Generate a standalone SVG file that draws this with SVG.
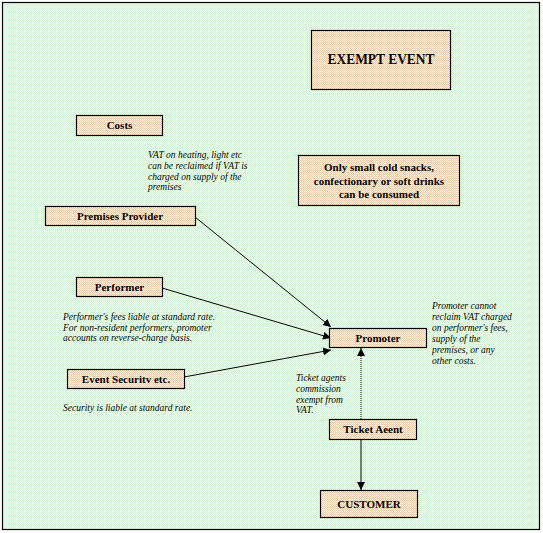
<svg xmlns="http://www.w3.org/2000/svg" width="543" height="533" viewBox="0 0 543 533">
<defs>
<pattern id="bg" width="2" height="2" patternUnits="userSpaceOnUse">
<rect width="2" height="2" fill="#ffffff"/>
<rect width="1" height="1" fill="#c6f7c6"/>
<rect x="1" y="1" width="1" height="1" fill="#c6f7c6"/>
</pattern>
<pattern id="pk" width="2" height="2" patternUnits="userSpaceOnUse">
<rect width="2" height="2" fill="#ffffff"/>
<rect width="1" height="1" fill="#ffc38c"/>
<rect x="1" y="1" width="1" height="1" fill="#ffc38c"/>
</pattern>
<marker id="ah" markerWidth="9" markerHeight="9" refX="8" refY="4" orient="auto" markerUnits="userSpaceOnUse">
<path d="M0,0 L8,4 L0,8 z" fill="#000"/>
</marker>
<style>
.box{fill:url(#pk);stroke:#000;stroke-width:1.2}
.lbl{font-family:"Liberation Serif","Times New Roman",serif;font-weight:bold;font-size:11px;text-anchor:middle;fill:#000}
.note{font-family:"Liberation Serif","Times New Roman",serif;font-style:italic;font-size:9.5px;fill:#000}
.ln{stroke:#000;stroke-width:1;fill:none}
</style>
</defs>
<rect x="2.5" y="2.5" width="537" height="527" fill="url(#bg)" stroke="#000" stroke-width="1.2"/>

<g id="connectors">
<line class="ln" x1="195" y1="217" x2="331" y2="327" marker-end="url(#ah)"/>
<line class="ln" x1="162" y1="288" x2="331" y2="338" marker-end="url(#ah)"/>
<line class="ln" x1="184" y1="377" x2="331" y2="350" marker-end="url(#ah)"/>
<line class="ln" x1="361" y1="419" x2="361" y2="348" stroke-dasharray="1,1" marker-end="url(#ah)"/>
<line class="ln" x1="361" y1="439" x2="361" y2="490" marker-end="url(#ah)"/>
</g>

<g id="exempt-event">
<rect class="box" x="311.5" y="30.5" width="139" height="59"/>
<text class="lbl" x="381" y="64" style="font-size:14px" textLength="107" lengthAdjust="spacingAndGlyphs">EXEMPT EVENT</text>
</g>

<g id="costs">
<rect class="box" x="76.5" y="115.5" width="86" height="20"/>
<text class="lbl" x="119.5" y="129">Costs</text>
</g>

<g id="vat-note">
<text class="note" x="148" y="158">VAT on heating, light etc</text>
<text class="note" x="148" y="169">can be reclaimed if VAT is</text>
<text class="note" x="148" y="179.5">charged on supply of the</text>
<text class="note" x="148" y="190">premises</text>
</g>

<g id="snacks">
<rect class="box" x="298.5" y="155.5" width="161" height="50"/>
<text class="lbl" x="379" y="171">Only small cold snacks,</text>
<text class="lbl" x="379" y="185">confectionary or soft drinks</text>
<text class="lbl" x="379" y="198">can be consumed</text>
</g>

<g id="premises-provider">
<rect class="box" x="45.5" y="206.5" width="150" height="19"/>
<text class="lbl" x="120" y="220">Premises Provider</text>
</g>

<g id="performer">
<rect class="box" x="76.5" y="277.5" width="86" height="19"/>
<text class="lbl" x="119.5" y="291">Performer</text>
</g>

<g id="performer-note">
<text class="note" x="63" y="320">Performer's fees liable at standard rate.</text>
<text class="note" x="63" y="330.5">For non-resident performers, promoter</text>
<text class="note" x="63" y="341">accounts on reverse-charge basis.</text>
</g>

<g id="promoter">
<rect class="box" x="329.5" y="328.5" width="97" height="19"/>
<text class="lbl" x="378" y="342">Promoter</text>
</g>

<g id="promoter-note">
<text class="note" x="432" y="309">Promoter cannot</text>
<text class="note" x="432" y="320">reclaim VAT charged</text>
<text class="note" x="432" y="331">on performer's fees,</text>
<text class="note" x="432" y="342">supply of the</text>
<text class="note" x="432" y="353">premises, or any</text>
<text class="note" x="432" y="363.5">other costs.</text>
</g>

<g id="event-security">
<rect class="box" x="67.5" y="369.5" width="117" height="19"/>
<text class="lbl" x="126" y="383">Event Securitv etc.</text>
</g>

<g id="security-note">
<text class="note" x="63" y="411">Security is liable at standard rate.</text>
</g>

<g id="ticket-note">
<text class="note" x="296" y="381">Ticket agents</text>
<text class="note" x="296" y="392">commission</text>
<text class="note" x="296" y="402.5">exempt from</text>
<text class="note" x="296" y="413">VAT.</text>
</g>

<g id="ticket-agent">
<rect class="box" x="329.5" y="419.5" width="87" height="20"/>
<text class="lbl" x="373" y="433">Ticket Aeent</text>
</g>

<g id="customer">
<rect class="box" x="320.5" y="490.5" width="97" height="27"/>
<text class="lbl" x="369" y="508">CUSTOMER</text>
</g>
</svg>
